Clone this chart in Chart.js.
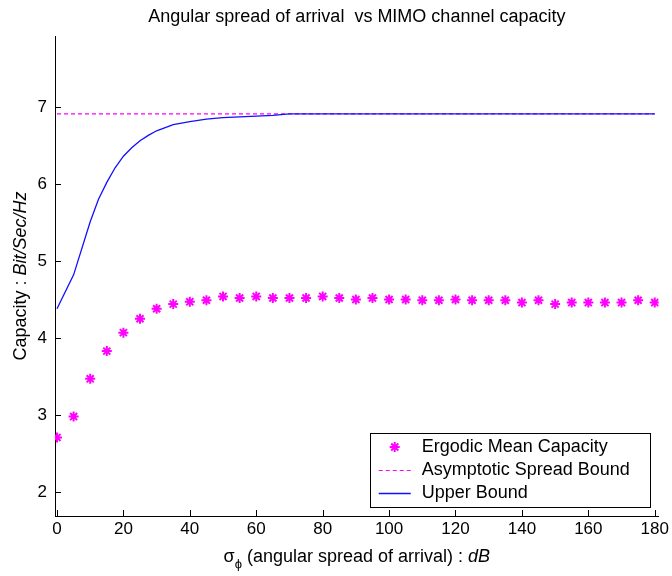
<!DOCTYPE html>
<html>
<head>
<meta charset="utf-8">
<script src="https://cdn.jsdelivr.net/npm/chart.js@4.4.0/dist/chart.umd.min.js"></script>
<style>
  html, body { margin: 0; padding: 0; background: #fff; }
</style>
</head>
<body>
<canvas id="capChart" width="672" height="576"></canvas>
<script>
// angular spread (deg) where the ergodic capacity was simulated
const spread = [0, 5, 10, 15, 20, 25, 30, 35, 40, 45, 50, 55, 60, 65, 70, 75, 80, 85, 90,
                95, 100, 105, 110, 115, 120, 125, 130, 135, 140, 145, 150, 155, 160, 165, 170, 175, 180];
const ergodicMean = [2.71, 2.98, 3.47, 3.83, 4.07, 4.25, 4.38, 4.44, 4.47, 4.49, 4.54, 4.52, 4.54,
                     4.52, 4.52, 4.52, 4.54, 4.52, 4.50, 4.52, 4.50, 4.50, 4.49, 4.49, 4.50, 4.49,
                     4.49, 4.49, 4.46, 4.49, 4.44, 4.46, 4.46, 4.46, 4.46, 4.49, 4.46];

// upper bound curve
const upperSpread = [0, 5, 10, 12.5, 15, 17.5, 20, 22.5, 25, 27.5, 30, 35, 40, 45, 50, 55, 60, 65, 70, 180];
const upperBound = [4.38, 4.82, 5.51, 5.80, 6.02, 6.21, 6.36, 6.47, 6.56, 6.63, 6.69, 6.77, 6.81,
                    6.84, 6.86, 6.87, 6.88, 6.89, 6.91, 6.91];

// asymptotic bound (flat)
const asymptoticSpread = [0, 180];
const asymptoticBound = [6.91, 6.91];

const xTicks = [0, 20, 40, 60, 80, 100, 120, 140, 160, 180];
const yTicks = [2, 3, 4, 5, 6, 7];

const FONT = '"Liberation Sans", Arial, sans-serif';
const MAGENTA = '#ff00ff';
const BLUE = '#1010ff';

const toPoints = (xs, ys) => xs.map((x, i) => ({ x: x, y: ys[i] }));

// matlab-ish decorations: inward ticks, title, axis labels, boxed legend
const matlabAxes = {
    id: 'matlabAxes',
    afterDraw(chart) {
        const ctx = chart.ctx;
        const area = chart.chartArea;
        const xs = chart.scales.x;
        const ys = chart.scales.y;
        ctx.save();

        ctx.strokeStyle = '#000';
        ctx.lineWidth = 1;
        ctx.beginPath();
        xTicks.forEach(v => {
            const px = Math.round(xs.getPixelForValue(v)) + 0.5;
            ctx.moveTo(px, area.bottom);
            ctx.lineTo(px, area.bottom - 6);
        });
        yTicks.forEach(v => {
            const py = Math.round(ys.getPixelForValue(v)) + 0.5;
            ctx.moveTo(area.left, py);
            ctx.lineTo(area.left + 6, py);
        });
        ctx.stroke();

        const midX = (area.left + area.right) / 2;
        ctx.fillStyle = '#000';
        ctx.textBaseline = 'middle';

        // title
        ctx.font = '18px ' + FONT;
        ctx.textAlign = 'center';
        ctx.fillText('Angular spread of arrival  vs MIMO channel capacity', midX, 17);

        // x label: sigma with phi subscript, then italic unit
        const mainFont = '18px ' + FONT;
        const italFont = 'italic 18px ' + FONT;
        const subFont = '13px ' + FONT;
        const partA = 'σ';
        const partB = 'ϕ';
        const partC = ' (angular spread of arrival) : ';
        const partD = 'dB';
        ctx.font = mainFont; const wA = ctx.measureText(partA).width;
        const wC = ctx.measureText(partC).width;
        ctx.font = subFont; const wB = ctx.measureText(partB).width;
        ctx.font = italFont; const wD = ctx.measureText(partD).width;
        let x = midX - (wA + wB + wC + wD) / 2;
        const ly = 557;
        ctx.textAlign = 'left';
        ctx.font = mainFont; ctx.fillText(partA, x, ly); x += wA;
        ctx.font = subFont; ctx.fillText(partB, x, ly + 7); x += wB;
        ctx.font = mainFont; ctx.fillText(partC, x, ly); x += wC;
        ctx.font = italFont; ctx.fillText(partD, x, ly);

        // y label, rotated
        const yA = 'Capacity : ';
        const yB = 'Bit/Sec/Hz';
        ctx.font = mainFont; const wyA = ctx.measureText(yA).width;
        ctx.font = italFont; const wyB = ctx.measureText(yB).width;
        ctx.save();
        ctx.translate(21, (area.top + area.bottom) / 2);
        ctx.rotate(-Math.PI / 2);
        let t = -(wyA + wyB) / 2;
        ctx.font = mainFont; ctx.fillText(yA, t, 0); t += wyA;
        ctx.font = italFont; ctx.fillText(yB, t, 0);
        ctx.restore();

        // legend box in the lower right corner of the axes
        const boxR = area.right - 9, boxB = area.bottom - 9;
        const boxL = boxR - 280, boxT = boxB - 74;
        ctx.fillStyle = '#fff';
        ctx.fillRect(boxL, boxT, boxR - boxL, boxB - boxT);
        ctx.strokeStyle = '#000';
        ctx.lineWidth = 1;
        ctx.strokeRect(Math.round(boxL) + 0.5, Math.round(boxT) + 0.5, boxR - boxL, boxB - boxT);

        ctx.font = mainFont;
        chart.data.datasets.forEach((ds, i) => {
            const ry = boxT + 14 + i * 23;
            const sx0 = boxL + 9, sx1 = boxL + 41;
            ctx.save();
            ctx.strokeStyle = ds.borderColor;
            ctx.fillStyle = ds.borderColor;
            ctx.lineWidth = ds.borderWidth;
            if (ds.showLine === false) {
                Chart.helpers.drawPoint(ctx, {
                    pointStyle: ds.pointStyle, radius: ds.pointRadius,
                    borderWidth: ds.borderWidth, rotation: 0
                }, (sx0 + sx1) / 2, ry);
            } else {
                ctx.setLineDash(ds.borderDash || []);
                ctx.beginPath();
                ctx.moveTo(sx0, Math.round(ry) + 0.5);
                ctx.lineTo(sx1, Math.round(ry) + 0.5);
                ctx.stroke();
            }
            ctx.restore();
            ctx.fillStyle = '#000';
            ctx.fillText(ds.label, boxL + 52, ry);
        });

        ctx.restore();
    }
};

new Chart(document.getElementById('capChart'), {
    type: 'scatter',
    data: {
        datasets: [
            {
                label: 'Ergodic Mean Capacity',
                data: toPoints(spread, ergodicMean),
                showLine: false,
                pointStyle: 'star',
                pointRadius: 5,
                borderWidth: 2,
                borderColor: MAGENTA,
                backgroundColor: MAGENTA,
                order: 0
            },
            {
                label: 'Asymptotic Spread Bound',
                data: toPoints(asymptoticSpread, asymptoticBound),
                showLine: true,
                pointRadius: 0,
                borderWidth: 1.2,
                borderDash: [4, 3],
                borderColor: MAGENTA,
                order: 2
            },
            {
                label: 'Upper Bound',
                data: toPoints(upperSpread, upperBound),
                showLine: true,
                pointRadius: 0,
                borderWidth: 1.3,
                borderColor: BLUE,
                tension: 0,
                order: 1
            }
        ]
    },
    options: {
        responsive: false,
        animation: false,
        layout: { padding: { left: 0, right: 11, top: 36, bottom: 0 } },
        plugins: { legend: { display: false }, tooltip: { enabled: false } },
        scales: {
            x: {
                type: 'linear',
                min: -0.6,
                max: 181.2,
                afterBuildTicks: s => { s.ticks = xTicks.map(v => ({ value: v })); },
                afterFit: s => { s.height = 60; },
                ticks: { color: '#000', font: { family: FONT, size: 17 }, padding: 3, maxRotation: 0 },
                grid: { drawOnChartArea: false, drawTicks: false },
                border: { display: true, color: '#000', width: 1 }
            },
            y: {
                type: 'linear',
                min: 1.69,
                max: 7.92,
                afterBuildTicks: s => { s.ticks = yTicks.map(v => ({ value: v })); },
                afterFit: s => { s.width = 55; },
                ticks: { color: '#000', font: { family: FONT, size: 17 }, padding: 8 },
                grid: { drawOnChartArea: false, drawTicks: false },
                border: { display: true, color: '#000', width: 1 }
            }
        }
    },
    plugins: [matlabAxes]
});
</script>
</body>
</html>
